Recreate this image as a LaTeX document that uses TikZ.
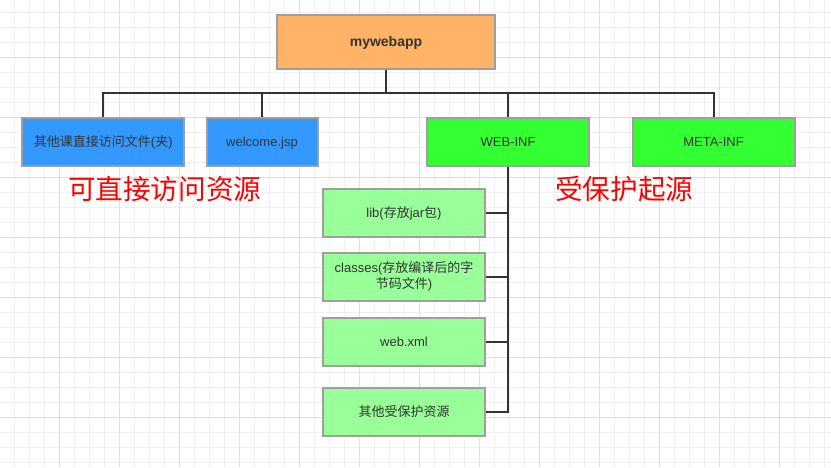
\documentclass[tikz,border=0pt]{standalone}
\usepackage{fontspec}
\setmainfont{Liberation Sans}
\newfontfamily\cjk{Noto Sans CJK SC}
\newcommand{\zh}[1]{{\cjk #1}}
\definecolor{gridminor}{HTML}{EFEFEF}
\definecolor{gridmajor}{HTML}{E0E0E0}
\definecolor{boxline}{HTML}{9E9E9E}
\definecolor{textgray}{HTML}{333333}
\definecolor{rootfill}{HTML}{FFB366}
\definecolor{bluefill}{HTML}{3399FF}
\definecolor{greenfill}{HTML}{33FF33}
\definecolor{lightgreen}{HTML}{99FF99}
\tikzset{
  dirbox/.style={draw=boxline,line width=2,rectangle,minimum width=162,minimum height=48,
    text=textgray,font=\fontsize{13}{16}\selectfont,align=center},
  oneline/.style={text height=10,text depth=1},
  conn/.style={draw=textgray,line width=2}
}
\begin{document}
\begin{tikzpicture}[x=1pt,y=-1pt,every node/.append style={inner sep=0pt}]
      \useasboundingbox (0,0) rectangle (831,467);
      % background grid
      \foreach \i in {0,...,54} \draw[gridminor,line width=1] (14.3+15*\i,0)--(14.3+15*\i,467);
      \foreach \i in {0,...,30} \draw[gridminor,line width=1] (0,12.3+15*\i)--(831,12.3+15*\i);
      \foreach \i in {0,...,13} \draw[gridmajor,line width=1] (59.3+60*\i,0)--(59.3+60*\i,467);
      \foreach \i in {0,...,7} \draw[gridmajor,line width=1] (0,57.3+60*\i)--(831,57.3+60*\i);

      \node[dirbox,oneline,fill=rootfill,minimum width=218,minimum height=54,font=\bfseries\fontsize{14}{16}\selectfont] (Root) at (386,42) {mywebapp};

      \node[dirbox,oneline,fill=bluefill] (Direct) at (103.3,141.5) {\zh{其他课直接访问文件}(\zh{夹})};
      \node[dirbox,oneline,fill=bluefill,minimum width=111] (Welcome) at (262,141.5) {welcome.jsp};
      \node[dirbox,oneline,fill=greenfill] (WebInf) at (508,141.5) {WEB-INF};
      \node[dirbox,oneline,fill=greenfill] (MetaInf) at (713.5,141.5) {META-INF};

      \node[dirbox,oneline,fill=lightgreen] (Lib) at (404,213) {lib(\zh{存放}jar\zh{包})};
      \node[dirbox,fill=lightgreen,text width=150] (Classes) at (404,276.5) {classes(\zh{存放编译后的字}\\\zh{节码文件})};
      \node[dirbox,oneline,fill=lightgreen] (WebXml) at (404,342) {web.xml};
      \node[dirbox,oneline,fill=lightgreen] (Others) at (404,412) {\zh{其他受保护资源}};

      \node[text=red,font=\cjk\fontsize{27.6}{30}\selectfont,anchor=west] (Public) at (68,189) {可直接访问资源};
      \node[text=red,font=\cjk\fontsize{27.6}{30}\selectfont,anchor=west] (Protected) at (555,189) {受保护起源};

      \coordinate (Bus) at (386,93);
      \draw[conn] (Root.south)--(Bus);
      \draw[conn] (Direct.north) |- (Bus);
      \draw[conn] (Welcome.north) |- (Bus);
      \draw[conn] (WebInf.north) |- (Bus);
      \draw[conn] (MetaInf.north) |- (Bus);

      \draw[conn] (WebInf.south) |- (Lib.east);
      \draw[conn] (WebInf.south) |- (Classes.east);
      \draw[conn] (WebInf.south) |- (WebXml.east);
      \draw[conn] (WebInf.south) |- (Others.east);
    \end{tikzpicture}
\end{document}
